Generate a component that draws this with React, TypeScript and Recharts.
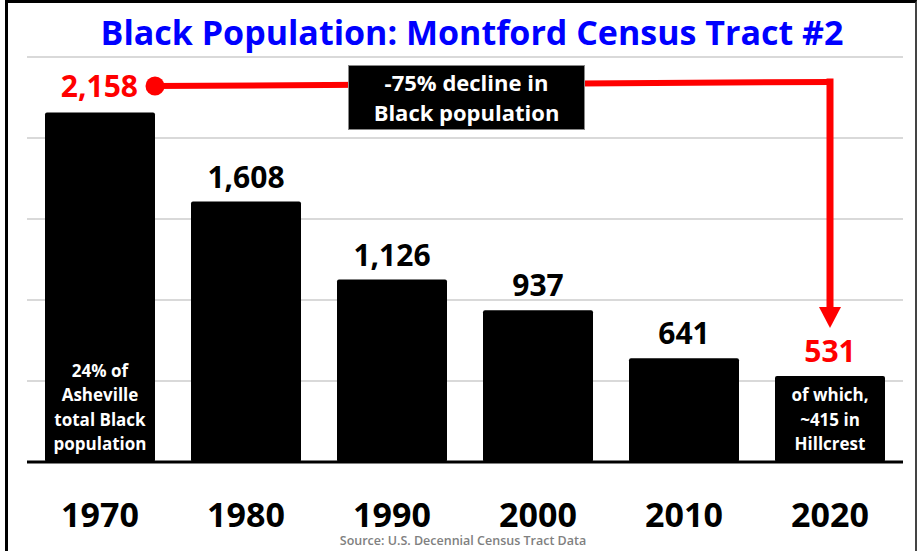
import React from 'react';
import { BarChart, Bar, XAxis, YAxis, CartesianGrid, LabelList, ReferenceLine, ReferenceDot } from 'recharts';

const years = ['1970', '1980', '1990', '2000', '2010', '2020'];
const population = [2158, 1608, 1126, 937, 641, 531];
const yTicks = [0, 500, 1000, 1500, 2000, 2500];
const notes1970 = ['24% of', 'Asheville', 'total Black', 'population'];
const notes2020 = ['of which,', '~415 in', 'Hillcrest'];

// decline annotation: from the 1970 bar to the 2020 bar (y in population units)
const lineStart = { x: '1970', y: 2321 };
const lineCorner = { x: '2020', y: 2346 };
const arrowBase = { x: '2020', y: 950 };
const arrowTip = { x: '2020', y: 827 };

const data = years.map((year, i) => ({ year, value: population[i] }));

const RED = '#ff0000';
const FONT = '"Open Sans", sans-serif';
const BAR_W = 110;
const fmt = (v: number) => v.toLocaleString('en-US');

const renderBarLabel = (props: any) => {
  const { x, y, width, height, index, value } = props;
  const cx = x + width / 2;
  const bottom = y + height;
  const notes = index === 0 ? notes1970 : index === years.length - 1 ? notes2020 : [];
  const last = index === years.length - 1;
  return (
    <g>
      {index === 0 ? (
        <text x={x + width - 17} y={y - 15} textAnchor="end" fill={RED} fontSize={30} fontWeight={700} fontFamily={FONT}>
          {fmt(value)}
        </text>
      ) : (
        <text x={cx} y={y - 14} textAnchor="middle" fill={last ? RED : '#000'} fontSize={30} fontWeight={700} fontFamily={FONT}>
          {fmt(value)}
        </text>
      )}
      {notes.map((line, i) => (
        <text
          key={line}
          x={cx}
          y={bottom - 12 - (notes.length - 1 - i) * 24.5}
          textAnchor="middle"
          fill="#fff"
          fontSize={17}
          fontWeight={700}
          fontFamily={FONT}
        >
          {line}
        </text>
      ))}
    </g>
  );
};

const YearTick = (props: any) => {
  const { x, y, payload } = props;
  return (
    <text x={x} y={y} dy={57} textAnchor="middle" fill="#000" fontSize={34} fontWeight={700} fontFamily={FONT}>
      {payload.value}
    </text>
  );
};

// line starts at the right edge of the 1970 bar
const DeclineLine = (props: any) => {
  const { x1, y1, x2, y2 } = props;
  return (
    <line x1={x1 + BAR_W / 2} y1={y1} x2={x2} y2={y2} stroke={RED} strokeWidth={6} strokeLinecap="square" />
  );
};

const StartDot = (props: any) => {
  const { cx, cy } = props;
  return <circle cx={cx + BAR_W / 2} cy={cy} r={9.5} fill={RED} />;
};

const Arrowhead = (props: any) => {
  const { cx, cy } = props;
  return <polygon points={`${cx - 11},${cy - 21} ${cx + 11},${cy - 21} ${cx},${cy}`} fill={RED} />;
};

export default function App() {
  return (
    <div style={{ position: 'fixed', left: 0, top: 0, width: 918, height: 551, overflow: 'hidden', background: '#fff', fontFamily: FONT }}>
      <div
        style={{
          position: 'absolute',
          left: 5,
          top: 0,
          width: 912,
          height: 620,
          boxSizing: 'border-box',
          borderTop: '3px solid #000',
          borderLeft: '3px solid #000',
          borderRight: '2px solid #444',
        }}
      />
      <div
        style={{
          position: 'absolute',
          left: 26,
          width: 892,
          top: 12,
          lineHeight: '40px',
          fontSize: 34,
          fontWeight: 700,
          color: '#0000ff',
          textAlign: 'center',
          whiteSpace: 'nowrap',
        }}
      >
        Black Population: Montford Census Tract #2
      </div>
      <div style={{ position: 'absolute', left: 0, top: 0 }}>
        <BarChart width={918} height={551} data={data} margin={{ top: 57, right: 15, left: 27, bottom: 0 }}>
          <CartesianGrid vertical={false} stroke="#d9d9d9" strokeWidth={2} />
          <XAxis
            dataKey="year"
            height={89}
            axisLine={{ stroke: '#000', strokeWidth: 3 }}
            tickLine={false}
            tick={<YearTick />}
            interval={0}
          />
          <YAxis domain={[0, 2500]} ticks={yTicks} hide />
          <Bar dataKey="value" fill="#000" barSize={BAR_W} radius={2} isAnimationActive={false}>
            <LabelList dataKey="value" content={renderBarLabel} />
          </Bar>
          <ReferenceLine segment={[lineStart, lineCorner]} shape={<DeclineLine />} />
          <ReferenceLine
            segment={[lineCorner, arrowBase]}
            stroke={RED}
            strokeWidth={7}
            strokeLinecap="square"
          />
          <ReferenceDot x={lineStart.x} y={lineStart.y} r={9} shape={<StartDot />} />
          <ReferenceDot x={arrowTip.x} y={arrowTip.y} r={1} shape={<Arrowhead />} />
        </BarChart>
      </div>
      <div
        style={{
          position: 'absolute',
          left: 348,
          top: 65,
          width: 237,
          height: 65,
          boxSizing: 'border-box',
          background: '#000',
          border: '1px solid #888',
          color: '#fff',
          fontSize: 22,
          fontWeight: 700,
          lineHeight: '30px',
          textAlign: 'center',
          paddingTop: 1,
        }}
      >
        <div>-75% decline in</div>
        <div>Black population</div>
      </div>
      <div
        style={{
          position: 'absolute',
          left: 263,
          width: 400,
          top: 534,
          fontSize: 12.5,
          fontWeight: 600,
          color: '#808080',
          textAlign: 'center',
          lineHeight: '14px',
        }}
      >
        Source: U.S. Decennial Census Tract Data
      </div>
    </div>
  );
}
